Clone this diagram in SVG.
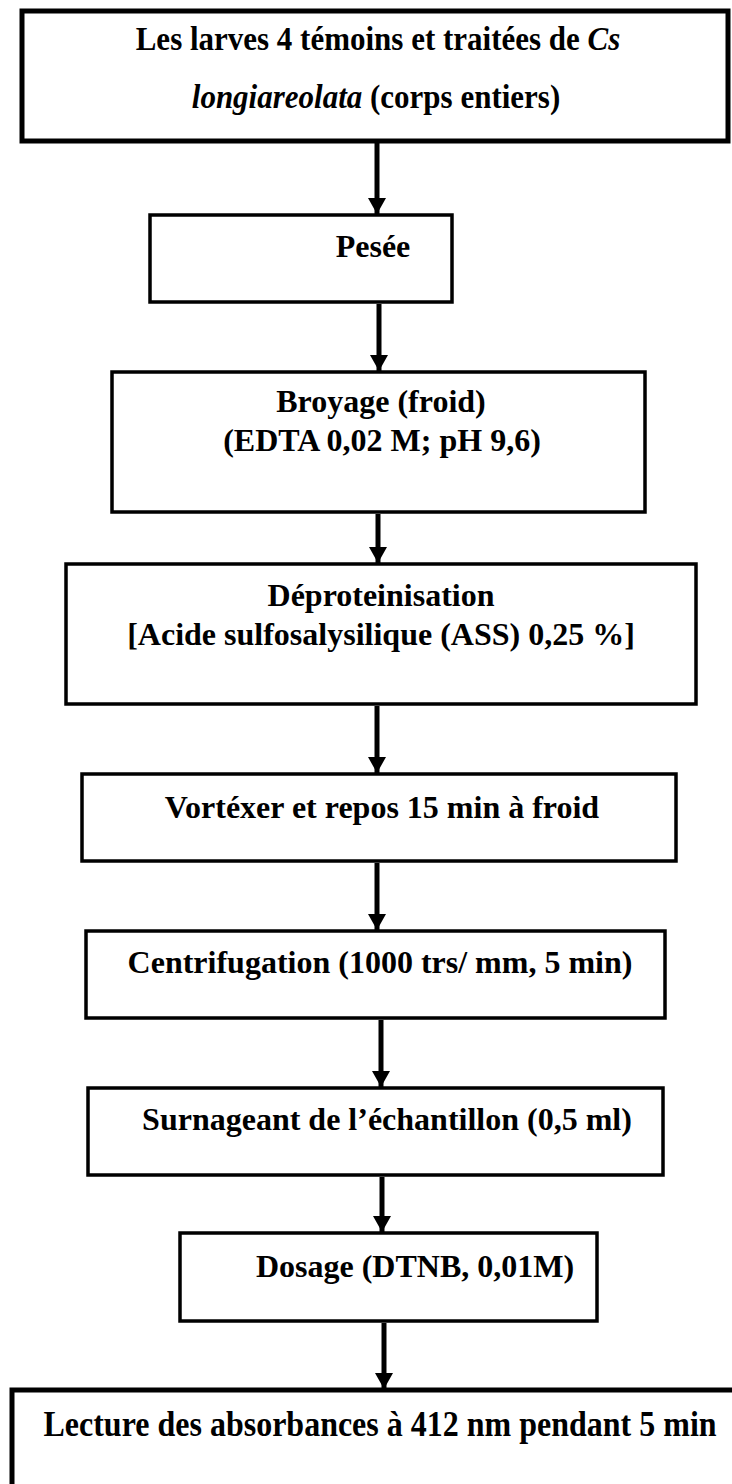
<svg xmlns="http://www.w3.org/2000/svg" width="732" height="1484" viewBox="0 0 732 1484">
<style>
.box{fill:#fff;stroke:#000;stroke-width:3.5}
.bigbox{fill:#fff;stroke:#000;stroke-width:5}
.t{font-family:"Liberation Serif","Times New Roman",serif;font-weight:bold;font-size:32px;fill:#000;text-anchor:middle}
.tb{font-size:31px}
.i{font-style:italic}
.conn{stroke:#000;stroke-width:5;fill:none}
</style>
<defs>
<marker id="ah" markerUnits="userSpaceOnUse" markerWidth="18" markerHeight="18" refX="16" refY="9" orient="auto">
<path d="M0,0 L16,9 L0,18 Z" fill="#000"/>
</marker>
</defs>
<rect width="732" height="1484" fill="#fff"/>
<g id="connectors">
<line class="conn" x1="377" y1="143" x2="377" y2="214" marker-end="url(#ah)"/>
<line class="conn" x1="379" y1="304" x2="379" y2="371" marker-end="url(#ah)"/>
<line class="conn" x1="378" y1="514" x2="378" y2="563" marker-end="url(#ah)"/>
<line class="conn" x1="377" y1="706" x2="377" y2="773" marker-end="url(#ah)"/>
<line class="conn" x1="377" y1="863" x2="377" y2="930" marker-end="url(#ah)"/>
<line class="conn" x1="381" y1="1020" x2="381" y2="1087" marker-end="url(#ah)"/>
<line class="conn" x1="382" y1="1177" x2="382" y2="1232" marker-end="url(#ah)"/>
<line class="conn" x1="384" y1="1323" x2="384" y2="1389" marker-end="url(#ah)"/>
</g>
<g id="n1">
<rect class="bigbox" x="22" y="11" width="706" height="130"/>
<text class="t tb" transform="translate(378,50) scale(1,1.12)">Les larves 4 témoins et traitées de <tspan class="i">Cs</tspan></text>
<text class="t tb" transform="translate(376,108) scale(1,1.12)"><tspan class="i">longiareolata</tspan> (corps entiers)</text>
</g>
<g id="n2">
<rect class="box" x="150" y="215" width="302" height="87"/>
<text class="t" x="373" y="257">Pesée</text>
</g>
<g id="n3">
<rect class="box" x="112" y="372" width="533" height="140"/>
<text class="t" x="381" y="412">Broyage (froid)</text>
<text class="t" x="382" y="451">(EDTA 0,02 M; pH 9,6)</text>
</g>
<g id="n4">
<rect class="box" x="66" y="564" width="630" height="140"/>
<text class="t" x="381" y="606">Déproteinisation</text>
<text class="t" x="381" y="645">[Acide sulfosalysilique (ASS) 0,25 %]</text>
</g>
<g id="n5">
<rect class="box" x="82" y="774" width="594" height="87"/>
<text class="t" x="382" y="818">Vortéxer et repos 15 min à froid</text>
</g>
<g id="n6">
<rect class="box" x="86" y="931" width="579" height="87"/>
<text class="t" x="380" y="973">Centrifugation (1000 trs/ mm, 5 min)</text>
</g>
<g id="n7">
<rect class="box" x="88" y="1088" width="575" height="87"/>
<text class="t" x="387" y="1130">Surnageant de l’échantillon (0,5 ml)</text>
</g>
<g id="n8">
<rect class="box" x="180" y="1233" width="417" height="88"/>
<text class="t" x="415" y="1277">Dosage (DTNB, 0,01M)</text>
</g>
<g id="n9">
<rect class="bigbox" x="12" y="1390" width="730" height="110"/>
<text class="t" transform="translate(380,1436) scale(1,1.12)">Lecture des absorbances à 412 nm pendant 5 min</text>
</g>
</svg>
